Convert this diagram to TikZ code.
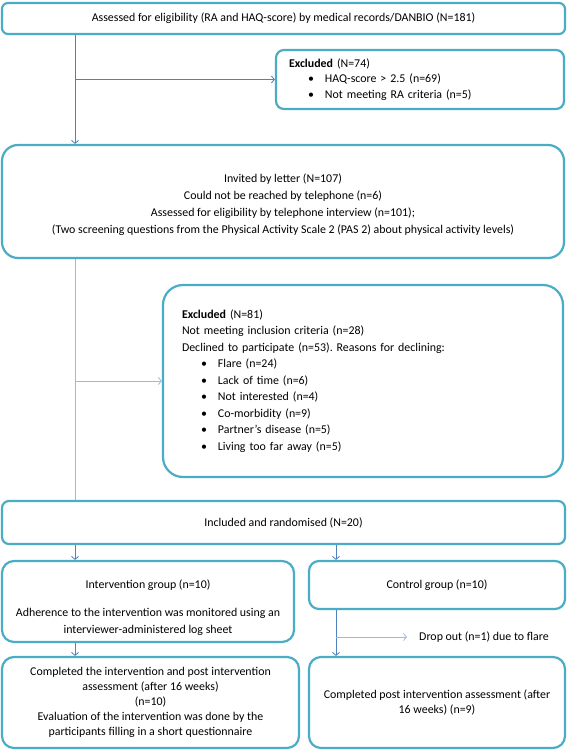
\documentclass[tikz,border=0pt]{standalone}
\usepackage{fontspec}
\setmainfont{Carlito}
\usetikzlibrary{arrows.meta}
\frenchspacing

\definecolor{boxblue}{HTML}{4BACC6}
\definecolor{lineblue}{HTML}{4F81BD}
\definecolor{paleblue}{HTML}{9DB9DE}
\newcommand{\bitem}[1]{\hspace*{19pt}\textbullet\hspace{11pt}#1}
\newcommand{\topgap}[1]{\rule{0pt}{#1}}

\begin{document}
\begin{tikzpicture}[x=1pt,y=-1pt,
    box/.style={draw=boxblue,line width=2.2pt,inner sep=0pt,align=center,
      font=\fontsize{11.9}{16.5}\selectfont},
    arr/.style={draw=lineblue,line width=0.8pt,-{Straight Barb[length=3pt,width=7pt]}},
    pale/.style={draw=paleblue,line width=0.9pt}]

    \useasboundingbox (0,0) rectangle (567,750);

    \coordinate (s1) at (75,0);
    \coordinate (s2) at (336,0);

    \node [box,rounded corners=6pt,minimum width=563pt,minimum height=31pt] (elig) at (283.5,18.5)
    {Assessed for eligibility (RA and HAQ-score) by medical records/DANBIO (N=181)};

    \node [box,rounded corners=8pt,minimum width=288pt,minimum height=59pt,
      align=left,text width=262pt,inner xsep=13pt,font=\fontsize{11.9}{15.5}\selectfont] (excla) at (420,79.5)
    {\textbf{Excluded} (N=74)\\ \bitem{HAQ-score > 2.5 (n=69)}\\ \bitem{Not meeting RA criteria (n=5)}};

    \node [box,rounded corners=16pt,minimum width=562pt,minimum height=113pt,
      font=\fontsize{11.9}{17}\selectfont] (inv) at (283,201.5)
    {\topgap{16pt}Invited by letter (N=107)\\ Could not be reached by telephone (n=6)\\
     Assessed for eligibility by telephone interview (n=101);\\
     (Two screening questions from the Physical Activity Scale 2 (PAS 2) about physical activity levels)};

    \node [box,rounded corners=20pt,minimum width=400pt,minimum height=192pt,
      align=left,text width=362pt,inner xsep=19pt] (exclb) at (363,381)
    {\textbf{Excluded} (N=81)\\ Not meeting inclusion criteria (n=28)\\
     Declined to participate (n=53). Reasons for declining:\\
     \bitem{Flare (n=24)}\\ \bitem{Lack of time (n=6)}\\ \bitem{Not interested (n=4)}\\
     \bitem{Co-morbidity (n=9)}\\ \bitem{Partner's disease (n=5)}\\ \bitem{Living too far away (n=5)}};

    \node [box,rounded corners=7pt,minimum width=563pt,minimum height=43pt] (incl) at (283.5,522.5)
    {Included and randomised (N=20)};

    \node [box,rounded corners=12pt,minimum width=292pt,minimum height=81pt] (intv) at (148,601.5)
    {\topgap{21pt}Intervention group (n=10)\\[12pt] Adherence to the intervention was monitored using an\\
     interviewer-administered log sheet};

    \node [box,rounded corners=10pt,minimum width=256pt,minimum height=48pt] (ctrl) at (437,585)
    {Control group (n=10)};

    \node [box,rounded corners=12pt,minimum width=297pt,minimum height=91pt,
      font=\fontsize{11.9}{15}\selectfont] (compi) at (150.5,702.5)
    {Completed the intervention and post intervention\\ assessment (after 16 weeks)\\ (n=10)\\
     Evaluation of the intervention was done by the\\ participants filling in a short questionnaire};

    \node [box,rounded corners=12pt,minimum width=256pt,minimum height=91pt,
      font=\fontsize{11.9}{15}\selectfont] (compc) at (437,702.5)
    {Completed post intervention assessment (after\\ 16 weeks) (n=9)};

    \node [anchor=west,inner xsep=12pt,font=\fontsize{11.9}{13}\selectfont] (drop) at (407,637)
    {Drop out (n=1) due to flare};

    \draw [arr] (elig.south -| s1) -- (inv.north -| s1);
    \draw [arr] (excla.west -| s1) -- (excla.west);

    \draw [pale] (inv.south -| s1) -- (incl.north -| s1);
    \draw [arr,draw=paleblue] (exclb.west -| s1) -- (exclb.west);

    \draw [arr] (incl.south -| s1) -- (intv.north -| s1);
    \draw [arr] (incl.south -| s2) -- (ctrl.north -| s2);

    \draw [arr] (intv.south -| s1) -- (compi.north -| s1);
    \draw [arr] (ctrl.south -| s2) -- (compc.north -| s2);
    \draw [arr,draw=paleblue] (drop.west -| s2) -- (drop.west);

\end{tikzpicture}
\end{document}
